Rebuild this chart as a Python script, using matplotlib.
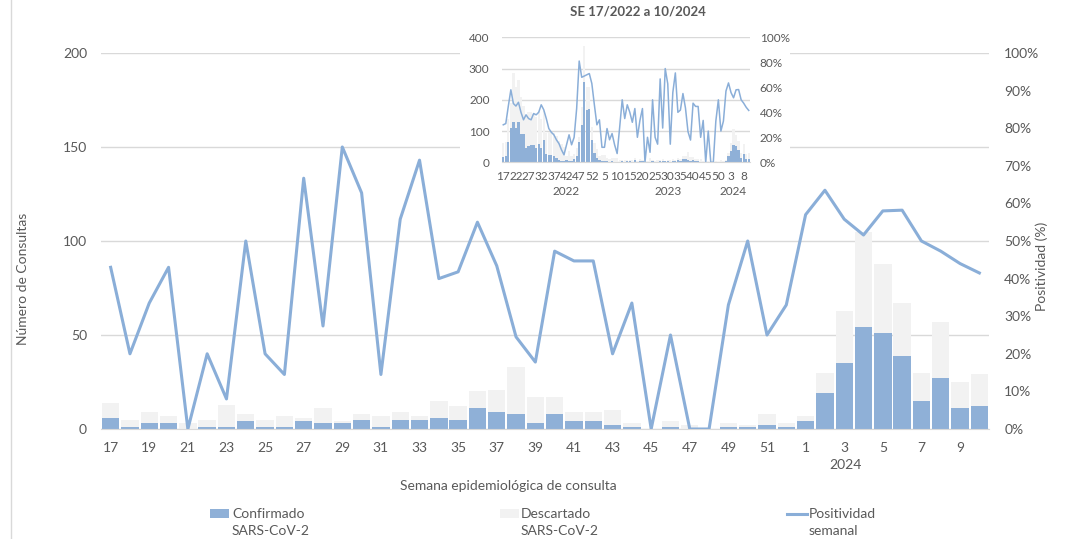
import matplotlib
matplotlib.use("Agg")
import matplotlib.pyplot as plt
from matplotlib.patches import Rectangle
from matplotlib.lines import Line2D
from matplotlib.ticker import FuncFormatter

plt.rcParams['font.family'] = ['Lato', 'DejaVu Sans']

# ---------------- main chart data (SE 17/2023 - SE 10/2024) ----------------
weeks = [17, 18, 19, 20, 21, 22, 23, 24, 25, 26, 27, 28, 29, 30, 31, 32,
         33, 34, 35, 36, 37, 38, 39, 40, 41, 42, 43, 44, 45, 46, 47, 48,
         49, 50, 51, 52, 1, 2, 3, 4, 5, 6, 7, 8, 9, 10]
confirmed = [6, 1, 3, 3, 0, 1, 1, 4, 1, 1, 4, 3, 3, 5, 1, 5,
             5, 6, 5, 11, 9, 8, 3, 8, 4, 4, 2, 1, 0, 1, 0, 0,
             1, 1, 2, 1, 4, 19, 35, 54, 51, 39, 15, 27, 11, 12]
discarded = [8, 4, 6, 4, 3, 4, 12, 4, 4, 6, 2, 8, 1, 3, 6, 4,
             2, 9, 7, 9, 12, 25, 14, 9, 5, 5, 8, 2, 0, 3, 2, 0,
             2, 1, 6, 2, 3, 11, 28, 51, 37, 28, 15, 30, 14, 17]
positivity = [43, 20, 33.5, 43, 0, 20, 8, 50, 20, 14.5, 66.7, 27.4, 75, 62.8, 14.5, 55.8,
              71.5, 40, 41.8, 55, 43.4, 24.5, 17.8, 47.3, 44.7, 44.7, 20, 33.5, 0, 25, 0, 0,
              33, 50, 25, 33, 57, 63.5, 55.8, 51.6, 58, 58.2, 50, 47.3, 44, 41.5]

# ---------------- inset data (SE 17/2022 - SE 16/2023, then same as above) ----------------
inset_weeks = list(range(17, 53)) + list(range(1, 53)) + list(range(1, 11))
inset_conf_early = [18, 20, 65, 110, 130, 110, 130, 90, 90, 45, 52, 55, 55, 45, 58, 45, 70, 25,
                    22, 22, 20, 15, 8, 5, 3, 8, 3, 5, 10, 20, 66, 120, 258, 167, 170, 71,
                    29, 13, 7, 3, 3, 4, 2, 3, 2, 1, 2, 3, 2, 3, 3, 2]
inset_disc_early = [44, 45, 75, 80, 155, 130, 132, 120, 90, 105, 110, 105, 100, 100, 105, 95, 95, 70,
                    75, 75, 75, 70, 60, 55, 47, 12, 32, 15, 15, 25, 16, 58, 114, 73, 70, 41,
                    34, 30, 13, 21, 21, 11, 9, 10, 12, 13, 5, 3, 4, 3, 5, 4]
inset_pos_early = [30, 31, 45, 58, 47, 45, 48, 40, 34, 38, 35, 34, 39, 38, 40, 46, 42, 35,
                   27, 24, 22, 18, 15, 10, 6, 14, 22, 14, 20, 43, 81, 68, 69, 70, 71, 63,
                   46, 30, 34, 12, 12, 27, 18, 23, 14, 7, 28, 50, 35, 46, 40, 32]
inset_conf = inset_conf_early + confirmed
inset_disc = inset_disc_early + discarded
inset_pos = inset_pos_early + positivity

BLUE = '#8FB0D7'
GRAY_BAR = '#F2F2F2'
LINE = '#8AAED8'
GRID = '#D9D9D9'
TXT = '#595959'

W, H = 1067, 539
fig = plt.figure(figsize=(W / 100, H / 100), dpi=100)


def fx(x):
    return x / W


def fy(y):
    return 1 - y / H


# chart border line on the left
fig.add_artist(Line2D([fx(11), fx(11)], [0, 1], color=GRID, lw=1))

# ---------------- main axes ----------------
ax = fig.add_axes([fx(101), fy(429), 888 / W, 376 / H])
x = list(range(len(weeks)))
ax.bar(x, confirmed, width=0.9, color=BLUE, zorder=2)
ax.bar(x, discarded, width=0.9, bottom=confirmed, color=GRAY_BAR, zorder=2)
ax.set_xlim(-0.5, len(weeks) - 0.5)
ax.set_ylim(0, 200)
ax.set_yticks([0, 50, 100, 150, 200])
ax.yaxis.grid(True, color=GRID, lw=1)
ax.set_axisbelow(True)
for s in ['top', 'left', 'right']:
    ax.spines[s].set_visible(False)
ax.spines['bottom'].set_color(GRID)
ax.set_xticks(x[::2])
ax.set_xticklabels([str(w) for w in weeks[::2]])
ax.tick_params(axis='x', length=0, pad=9, labelsize=10, labelcolor=TXT)
ax.tick_params(axis='y', length=0, pad=10, labelsize=10, labelcolor=TXT)

ax2 = ax.twinx()
ax2.plot(x, [p / 100 for p in positivity], color=LINE, lw=2.2, zorder=3)
ax2.set_ylim(0, 1)
ax2.set_yticks([i / 10 for i in range(11)])
ax2.yaxis.set_major_formatter(FuncFormatter(lambda v, _: f"{round(v * 100)}%"))
for s in ['top', 'left', 'right', 'bottom']:
    ax2.spines[s].set_visible(False)
ax2.tick_params(axis='y', length=0, pad=11, labelsize=10, labelcolor=TXT)

fig.text(fx(845), fy(465), '2024', ha='center', va='center', fontsize=10, color=TXT)
fig.text(fx(508), fy(486), 'Semana epidemiológica de consulta', ha='center', va='center',
         fontsize=10, color=TXT)
fig.text(fx(23), fy(279), 'Número de Consultas', ha='center', va='center', rotation=90,
         fontsize=10, color=TXT)
fig.text(fx(1042), fy(266), 'Positividad (%)', ha='center', va='center', rotation=90,
         fontsize=10, color=TXT)

# ---------------- legend ----------------
fig.add_artist(Rectangle((fx(210), fy(518)), 19 / W, 9 / H, transform=fig.transFigure,
                         facecolor=BLUE, edgecolor='none'))
fig.text(fx(232), fy(514), 'Confirmado', ha='left', va='center', fontsize=10, color=TXT)
fig.text(fx(232), fy(531), 'SARS-CoV-2', ha='left', va='center', fontsize=10, color=TXT)
fig.add_artist(Rectangle((fx(500), fy(518)), 19 / W, 9 / H, transform=fig.transFigure,
                         facecolor=GRAY_BAR, edgecolor='none'))
fig.text(fx(521), fy(514), 'Descartado', ha='left', va='center', fontsize=10, color=TXT)
fig.text(fx(521), fy(531), 'SARS-CoV-2', ha='left', va='center', fontsize=10, color=TXT)
fig.add_artist(Line2D([fx(787), fx(807)], [fy(514), fy(514)], color=LINE, lw=2.2))
fig.text(fx(809), fy(514), 'Positividad', ha='left', va='center', fontsize=10, color=TXT)
fig.text(fx(809), fy(531), 'semanal', ha='left', va='center', fontsize=10, color=TXT)

# ---------------- inset ----------------
bg = Rectangle((fx(460), fy(200)), 330 / W, 200 / H, transform=fig.transFigure,
               facecolor='white', edgecolor='none', zorder=5)
fig.add_artist(bg)

axi = fig.add_axes([fx(502), fy(162.3), 248 / W, 125 / H])
axi.set_zorder(6)
axi.patch.set_alpha(0)
xi = list(range(len(inset_weeks)))
axi.bar(xi, inset_conf, width=0.9, color=BLUE, zorder=2)
axi.bar(xi, inset_disc, width=0.9, bottom=inset_conf, color=GRAY_BAR, zorder=2)
axi.set_xlim(-0.5, len(inset_weeks) - 0.5)
axi.set_ylim(0, 400)
axi.set_yticks([0, 100, 200, 300, 400])
axi.yaxis.grid(True, color=GRID, lw=1)
axi.set_axisbelow(True)
for s in ['top', 'left', 'right']:
    axi.spines[s].set_visible(False)
axi.spines['bottom'].set_color(GRID)
axi.set_xticks(xi[::5])
axi.set_xticklabels([str(w) for w in inset_weeks[::5]])
axi.tick_params(axis='x', length=0, pad=6, labelsize=8.5, labelcolor=TXT)
axi.tick_params(axis='y', length=0, pad=9, labelsize=8.5, labelcolor=TXT)

axi2 = axi.twinx()
axi2.set_zorder(7)
axi2.patch.set_alpha(0)
axi2.plot(xi, [p / 100 for p in inset_pos], color=LINE, lw=1.1, zorder=3)
axi2.set_ylim(0, 1)
axi2.set_yticks([0, 0.2, 0.4, 0.6, 0.8, 1.0])
axi2.yaxis.set_major_formatter(FuncFormatter(lambda v, _: f"{round(v * 100)}%"))
for s in ['top', 'left', 'right', 'bottom']:
    axi2.spines[s].set_visible(False)
axi2.tick_params(axis='y', length=0, pad=7, labelsize=8.5, labelcolor=TXT)

fig.text(fx(638), fy(12), 'SE 17/2022 a 10/2024', ha='center', va='center', fontsize=9.5,
         fontweight='bold', color=TXT, zorder=8)
for lab, xp in [('2022', 566), ('2023', 668), ('2024', 733)]:
    fig.text(fx(xp), fy(191), lab, ha='center', va='center', fontsize=8.5, color=TXT, zorder=8)

fig.savefig('out.png', dpi=100, facecolor='white')
